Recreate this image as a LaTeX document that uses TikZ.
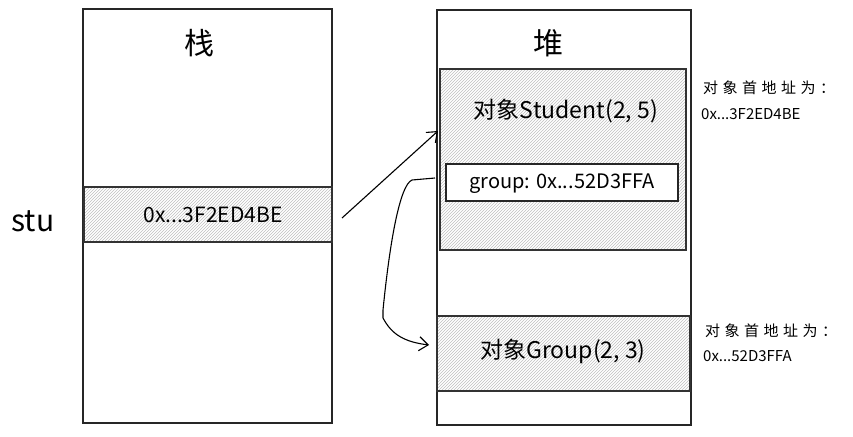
\documentclass[tikz,border=0pt]{standalone}
\usepackage{fontspec}
\setmainfont{Noto Sans CJK SC}
\newfontfamily\cjkwide[LetterSpace=30]{Noto Sans CJK SC}
\usetikzlibrary{patterns,arrows.meta}
\begin{document}
\begin{tikzpicture}[x=1pt,y=-1pt,
  frame/.style={draw=black!85,line width=1.3pt},
  hatch/.style={draw=black!80,line width=1.3pt,pattern=north east lines,pattern color=black!25},
  field/.style={draw=black!85,line width=1.1pt,fill=white},
  lbl/.style={font=\fontsize{23}{26}\selectfont,inner sep=0pt},
  note/.style={font=\fontsize{15}{18}\selectfont,inner sep=0pt,anchor=west},
  conn/.style={line width=1.1pt,black,-{Straight Barb[length=9pt,width=14pt,line width=1.1pt]}}]
\useasboundingbox (0,0) rectangle (853,436);
% stack
\node[frame,minimum width=249pt,minimum height=414pt,inner sep=0pt] (stack) at (207.5,216) {};
\node[font=\fontsize{30}{34}\selectfont,inner sep=0pt] (stacklbl) at (199,43) {栈};
\node[hatch,minimum width=248pt,minimum height=55pt,inner sep=0pt] (slot) at (208,214.5) {};
\node[font=\fontsize{21}{24}\selectfont,inner sep=0pt] (slottxt) at (213,214.5) {0x...3F2ED4BE};
\node[font=\fontsize{30}{34}\selectfont,inner sep=0pt] (stu) at (33,221) {stu};
% heap
\node[frame,minimum width=254pt,minimum height=415pt,inner sep=0pt] (heap) at (564,217.5) {};
\node[font=\fontsize{30}{34}\selectfont,inner sep=0pt] (heaplbl) at (548,43) {堆};
\node[hatch,minimum width=246pt,minimum height=181pt,inner sep=0pt] (student) at (563,159.5) {};
\node[lbl] (studenttxt) at (566,111) {对象Student(2, 5)};
\node[field,minimum width=232pt,minimum height=37pt,inner sep=0pt] (gfield) at (562,182.5) {};
\node[font=\fontsize{20}{23}\selectfont,inner sep=0pt] (gfieldtxt) at (562,184) {group: 0x...52D3FFA};
\node[hatch,minimum width=253pt,minimum height=75pt,inner sep=0pt] (group) at (563.5,353.5) {};
\node[lbl] (grouptxt) at (563,351) {对象Group(2, 3)};
% notes
\node[note,font=\cjkwide\fontsize{15}{18}\selectfont] (n1a) at (703,88) {对象首地址为：};
\node[note] (n1b) at (701,114) {0x...3F2ED4BE};
\node[note,font=\cjkwide\fontsize{15}{18}\selectfont] (n2a) at (705,331) {对象首地址为：};
\node[note] (n2b) at (703,356) {0x...52D3FFA};
% connectors
\coordinate (a1s) at (342,218);
\coordinate (a1e) at (438,131);
\draw[conn] (a1s) -- (a1e);
\coordinate (a2s) at (435,178);
\coordinate (a2e) at (429,345);
\draw[conn] (a2s) -- (412,180) .. controls (400,185) and (390,240) .. (383,310) -- (383,318) .. controls (392,335) and (405,342) .. (a2e);
\end{tikzpicture}
\end{document}
